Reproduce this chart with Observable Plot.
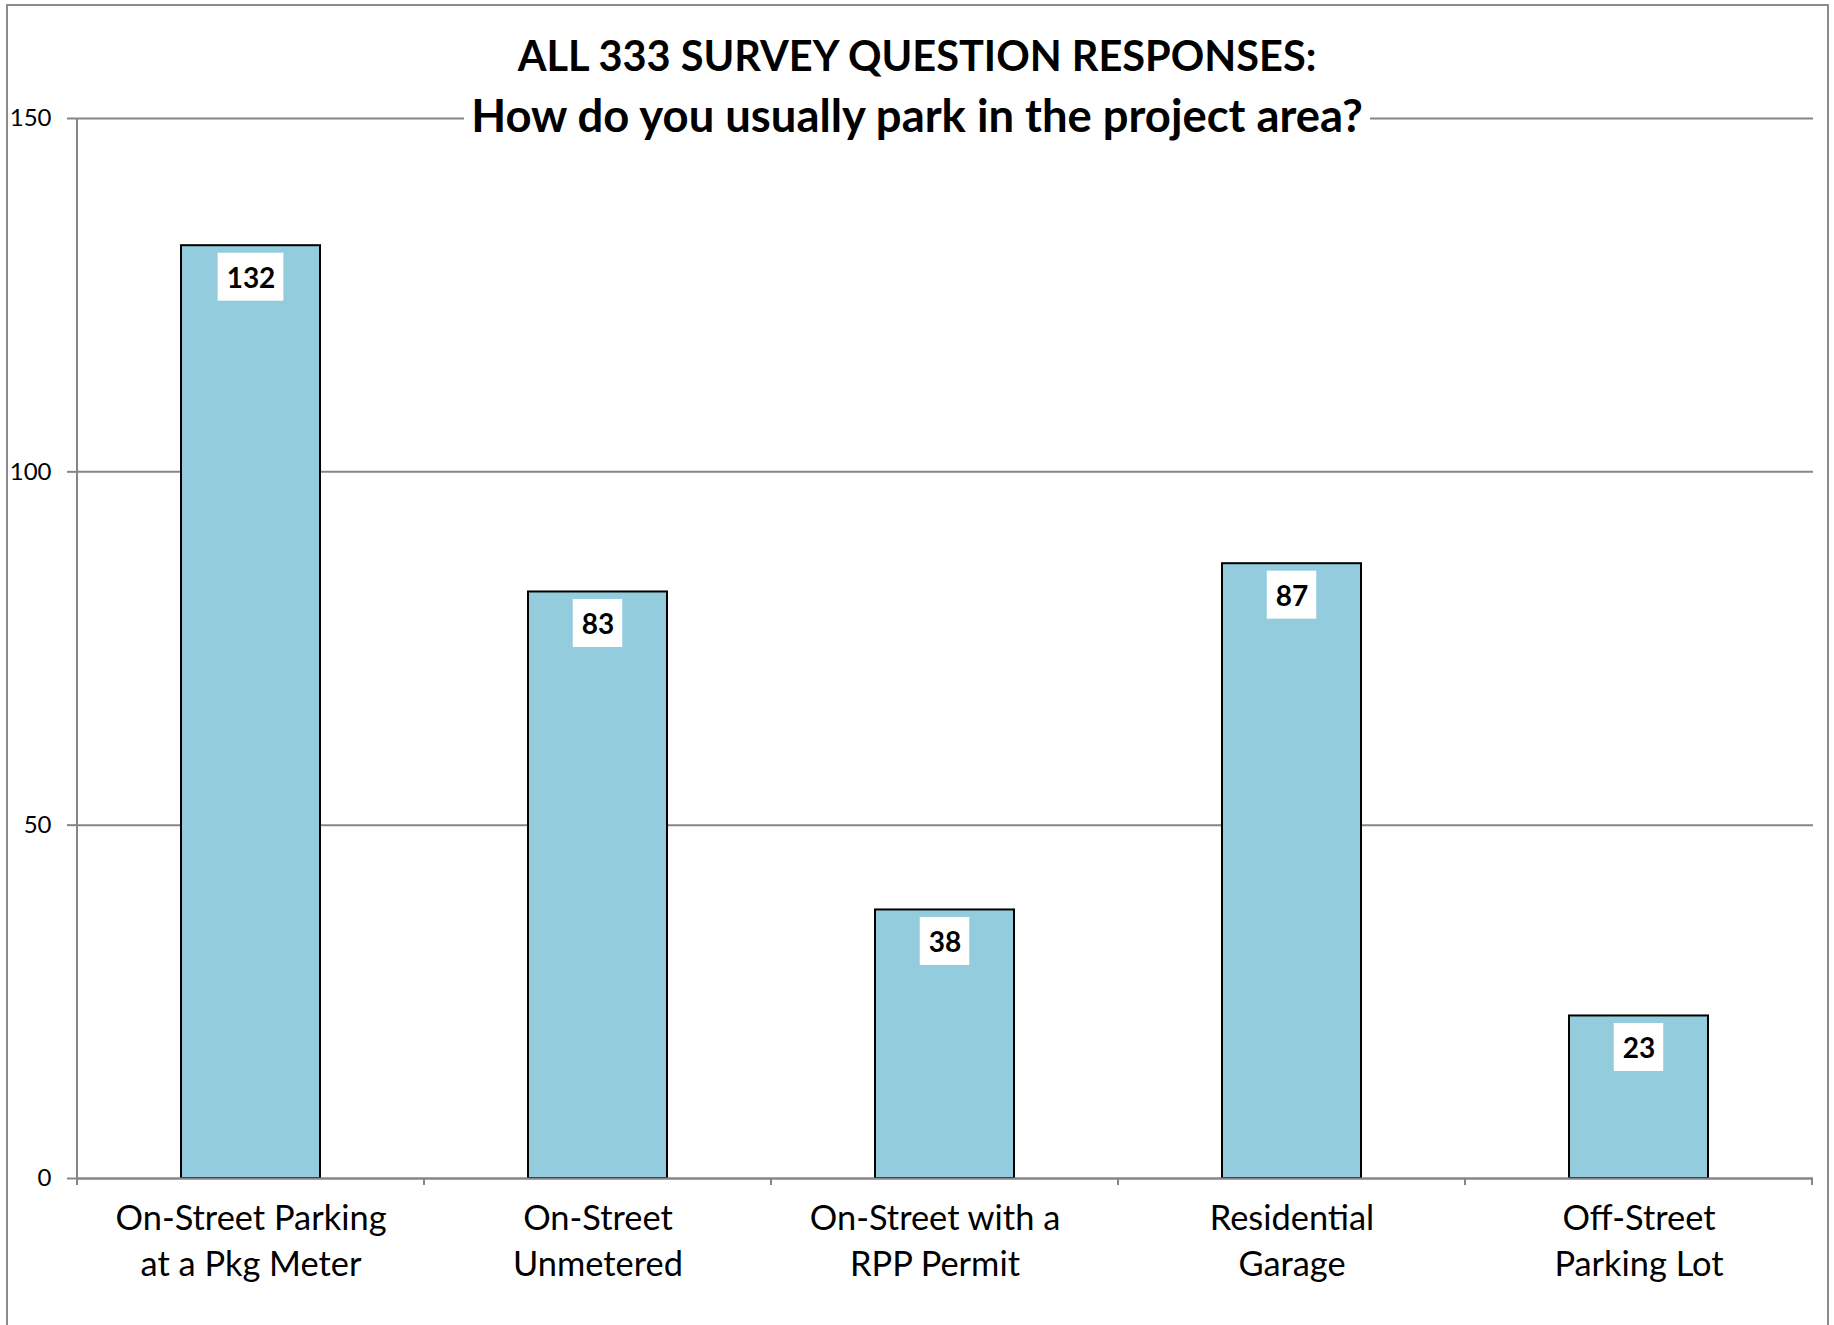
<!DOCTYPE html>
<html>
<head>
<meta charset="utf-8">
<script src="https://cdn.jsdelivr.net/npm/d3@7"></script>
<script src="https://cdn.jsdelivr.net/npm/@observablehq/plot@0.6"></script>
<style>
html, body { margin: 0; padding: 0; background: #fff; overflow: hidden; }
#wrap { position: relative; width: 1834px; height: 1325px; overflow: hidden; font-family: Lato, sans-serif; }
#border { position: absolute; left: 6px; top: 4px; width: 1823px; height: 1400px; border: 2px solid #8c8c8c; box-sizing: border-box; }
#chart { position: absolute; left: 0; top: 0; }
.title { position: absolute; left: 0; width: 1834px; text-align: center; font-weight: bold; line-height: 59px; color: #000; }
#t1 { top: 26px; font-size: 41.5px; }
#t2 { top: 85px; font-size: 45.4px; }
#t2 span { background: #fff; padding: 0 7px; }
</style>
</head>
<body>
<div id="wrap">
  <div id="border"></div>
  <div id="chart"></div>
  <div class="title" id="t1">ALL 333 SURVEY QUESTION RESPONSES:</div>
  <div class="title" id="t2"><span>How do you usually park in the project area?</span></div>
</div>
<script>
const categories = [
  "On-Street Parking\nat a Pkg Meter",
  "On-Street\nUnmetered",
  "On-Street with a\nRPP Permit",
  "Residential\nGarage",
  "Off-Street\nParking Lot"
];
const values = [132, 83, 38, 87, 23];
const yTicks = [0, 50, 100, 150];

const data = categories.map((c, i) => ({category: c, value: values[i]}));
const GRAY = "#868686";

function boundaryTicks(index, scales) {
  const x = scales.x, y = scales.y;
  const bw = x.bandwidth();
  const y0 = y(0);
  const g = d3.create("svg:g").attr("stroke", GRAY).attr("stroke-width", 2);
  const edges = categories.map(c => x(c)).concat([x(categories[categories.length - 1]) + bw]);
  edges.forEach(px => g.append("line").attr("x1", px).attr("x2", px).attr("y1", y0).attr("y2", y0 + 7));
  const x0 = x(categories[0]);
  g.append("line").attr("x1", x0).attr("x2", x0).attr("y1", y(yTicks[yTicks.length - 1])).attr("y2", y0);
  return g.node();
}

function labelBoxes(index, scales) {
  const x = scales.x, y = scales.y;
  const bw = x.bandwidth();
  const ctx = document.createElement("canvas").getContext("2d");
  ctx.font = "bold 28px Lato";
  const g = d3.create("svg:g").attr("fill", "white");
  data.forEach(d => {
    const w = ctx.measureText(String(d.value)).width + 17;
    const cx = x(d.category) + bw / 2;
    g.append("rect").attr("x", cx - w / 2).attr("y", y(d.value) + 7.5).attr("width", w).attr("height", 48);
  });
  return g.node();
}

const xLabelStyle = {tickSize: 0, tickPadding: 19, fontSize: 34.4, lineHeight: 1.33, fill: "black", lineAnchor: "top", label: null};
const shifted = [categories[2]];
const unshifted = categories.filter(c => !shifted.includes(c));

const chart = Plot.plot({
  width: 1834,
  height: 1325,
  marginLeft: 76,
  marginRight: 21,
  marginTop: 118,
  marginBottom: 147,
  style: {fontFamily: "Lato, sans-serif", background: "transparent", overflow: "visible"},
  x: {domain: categories, padding: 0},
  y: {domain: [0, 150]},
  marks: [
    Plot.gridY(yTicks, {stroke: GRAY, strokeOpacity: 1, strokeWidth: 2}),
    Plot.axisY(yTicks, {tickSize: 9, tickPadding: 16, stroke: GRAY, strokeWidth: 2, fill: "black", fontSize: 24, tickFormat: d => String(d), label: null}),
    Plot.barY(data, {x: "category", y: "value", fill: "#93CDDD", stroke: "black", strokeWidth: 2, insetLeft: 104, insetRight: 104}),
    Plot.ruleY([0], {stroke: GRAY, strokeWidth: 2}),
    boundaryTicks,
    labelBoxes,
    Plot.text(data, {x: "category", y: "value", text: d => String(d.value), dy: 33, fontWeight: "bold", fontSize: 28, fill: "black"}),
    Plot.axisX(unshifted, xLabelStyle),
    Plot.axisX(shifted, {...xLabelStyle, dx: -10})
  ]
});
document.getElementById("chart").appendChild(chart);
</script>
</body>
</html>
